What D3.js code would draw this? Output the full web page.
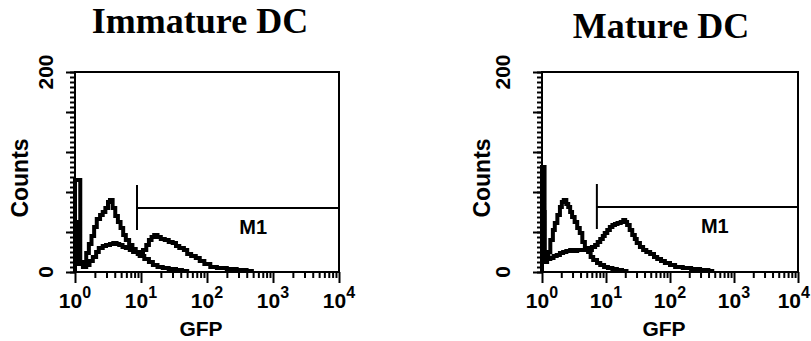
<!DOCTYPE html>
<html>
<head>
<meta charset="utf-8">
<script src="https://cdn.jsdelivr.net/npm/d3@7"></script>
<style>
  body { margin: 0; background: #fff; }
  svg { display: block; }
  .lbl { font-family: "Liberation Sans", Arial, Helvetica, sans-serif; font-weight: bold; fill: #000; }
  .ttl { font-family: "Liberation Serif", "Times New Roman", serif; font-weight: bold; font-size: 36px; fill: #000; }
  .axis path { display: none; }
  .axis line { stroke: #000; stroke-width: 2px; }
</style>
</head>
<body>
<svg id="chart" width="811" height="341"></svg>
<script>
'use strict';

var titles = ['Immature DC', 'Mature DC'];
var xTickLabels = ['0', '1', '2', '3', '4'];   // exponents of 10
var yTickLabels = ['0', '200'];

// histogram readings: [log10(GFP), counts]
var immatureControl = [[0, 92], [0.08, 10], [0.12, 8], [0.17, 19], [0.21, 28], [0.25, 36], [0.29, 45],
  [0.33, 53], [0.38, 57], [0.42, 60], [0.46, 64], [0.5, 70], [0.53, 72], [0.57, 64], [0.61, 56],
  [0.65, 50], [0.69, 44], [0.73, 37], [0.77, 32], [0.82, 27], [0.87, 23], [0.92, 20], [0.98, 16],
  [1.05, 13], [1.12, 10], [1.18, 7], [1.25, 5], [1.33, 4], [1.42, 3], [1.53, 2], [1.62, 1], [1.7, 0]];
var immatureGfp = [[0, 50], [0.06, 8], [0.12, 5], [0.17, 7], [0.22, 11], [0.27, 15], [0.32, 20],
  [0.36, 24], [0.42, 26], [0.47, 27], [0.53, 28], [0.58, 29], [0.63, 28], [0.67, 27], [0.72, 25],
  [0.77, 24], [0.83, 22], [0.88, 20], [0.95, 18], [1.0, 20], [1.03, 22], [1.08, 27], [1.12, 32],
  [1.16, 35], [1.2, 37], [1.25, 35], [1.3, 33], [1.36, 32], [1.42, 30], [1.48, 29], [1.53, 26],
  [1.58, 24], [1.65, 22], [1.7, 18], [1.76, 16], [1.83, 14], [1.89, 11], [1.96, 8], [2.05, 5],
  [2.15, 4], [2.3, 3], [2.45, 2], [2.6, 1], [2.68, 0]];

var matureControl = [[0, 105], [0.04, 20], [0.07, 14], [0.1, 20], [0.13, 32], [0.17, 42], [0.2, 49],
  [0.24, 57], [0.28, 65], [0.31, 70], [0.34, 72], [0.38, 68], [0.41, 65], [0.44, 60], [0.47, 55],
  [0.51, 50], [0.55, 44], [0.59, 39], [0.63, 30], [0.67, 24], [0.72, 20], [0.76, 15], [0.8, 12],
  [0.86, 9], [0.91, 7], [0.97, 5], [1.03, 4], [1.1, 3], [1.17, 2], [1.25, 1], [1.32, 0]];
var matureGfp = [[0, 60], [0.04, 10], [0.08, 13], [0.13, 14], [0.18, 16], [0.23, 17], [0.28, 19],
  [0.33, 20], [0.38, 21], [0.44, 22], [0.5, 21], [0.55, 22], [0.6, 22], [0.66, 22], [0.72, 22],
  [0.78, 25], [0.83, 27], [0.87, 30], [0.91, 33], [0.95, 36], [0.98, 39], [1.02, 42], [1.06, 45],
  [1.1, 47], [1.14, 48], [1.18, 49], [1.23, 50], [1.27, 52], [1.3, 50], [1.33, 47], [1.37, 42],
  [1.41, 37], [1.45, 33], [1.48, 29], [1.53, 25], [1.58, 22], [1.63, 20], [1.69, 18], [1.75, 15],
  [1.8, 13], [1.86, 11], [1.92, 9], [2.0, 7], [2.08, 5], [2.2, 4], [2.33, 3], [2.47, 2],
  [2.6, 1], [2.66, 0]];

// M1 gate: [from GFP, to GFP, counts level]
var immatureGate = [8.7, 10000, 64];
var matureGate = [7.2, 10000, 65];
var gateName = 'M1';

var panels = [
  {title: titles[0], series: [immatureControl, immatureGfp], gate: immatureGate,
   left: 75, right: 339, top: 72, bottom: 272, titleX: 200, titleY: 33, yLblX: 53, countsX: 28},
  {title: titles[1], series: [matureControl, matureGfp], gate: matureGate,
   left: 542, right: 798, top: 72, bottom: 272, titleX: 661, titleY: 38, yLblX: 510, countsX: 490}
];

var W = 811;
var svg = d3.select('#chart');

panels.forEach(function (p) {
  var g = svg.append('g');

  var x = d3.scaleLog().domain([1, 10000]).range([p.left, p.right]);
  var y = d3.scaleLinear().domain([0, 200]).range([p.bottom, p.top]);

  // title
  g.append('text').attr('class', 'ttl')
    .attr('x', p.titleX).attr('y', p.titleY)
    .attr('text-anchor', 'middle')
    .text(p.title);

  // frame
  g.append('rect')
    .attr('x', p.left).attr('y', p.top)
    .attr('width', p.right - p.left).attr('height', p.bottom - p.top)
    .attr('fill', 'none').attr('stroke', '#000').attr('stroke-width', 2);

  // y ticks
  g.append('g').attr('class', 'axis')
    .attr('transform', 'translate(' + p.left + ',0)')
    .call(d3.axisLeft(y).tickValues(d3.range(0, 201, 5)).tickSize(5).tickFormat(''));
  g.append('g').attr('class', 'axis')
    .attr('transform', 'translate(' + p.left + ',0)')
    .call(d3.axisLeft(y).tickValues(d3.range(0, 201, 40)).tickSize(9).tickFormat(''));

  // x ticks
  var minor = [];
  for (var e = 0; e < 4; e++) {
    for (var m = 2; m < 10; m++) minor.push(m * Math.pow(10, e));
  }
  var major = xTickLabels.map(function (d) { return Math.pow(10, +d); });
  g.append('g').attr('class', 'axis')
    .attr('transform', 'translate(0,' + p.bottom + ')')
    .call(d3.axisBottom(x).tickValues(minor).tickSize(6).tickFormat(''));
  g.append('g').attr('class', 'axis')
    .attr('transform', 'translate(0,' + p.bottom + ')')
    .call(d3.axisBottom(x).tickValues(major).tickSize(11).tickFormat(''));

  // x tick labels: 10^n
  xTickLabels.forEach(function (d) {
    var t = g.append('text').attr('class', 'lbl')
      .attr('x', x(Math.pow(10, +d))).attr('y', p.bottom + 36)
      .attr('text-anchor', 'middle')
      .style('font-size', '21px');
    t.append('tspan').text('10');
    t.append('tspan').attr('dy', -10).style('font-size', '16px').text(d);
    // keep the last label inside the page
    var bb = t.node().getBBox();
    if (bb.x + bb.width > W - 1) t.attr('x', +t.attr('x') - (bb.x + bb.width - W + 1));
  });

  // y tick labels, rotated
  yTickLabels.forEach(function (d) {
    g.append('text').attr('class', 'lbl')
      .attr('transform', 'translate(' + p.yLblX + ',' + y(+d) + ') rotate(-90)')
      .attr('text-anchor', 'middle')
      .style('font-size', '21px')
      .text(d);
  });

  // axis titles
  g.append('text').attr('class', 'lbl')
    .attr('transform', 'translate(' + p.countsX + ',' + ((p.top + p.bottom) / 2 + 6) + ') rotate(-90)')
    .attr('text-anchor', 'middle')
    .style('font-size', '23px')
    .text('Counts');
  g.append('text').attr('class', 'lbl')
    .attr('x', (p.left + p.right) / 2 - 6).attr('y', p.bottom + 64)
    .attr('text-anchor', 'middle')
    .style('font-size', '21px')
    .text('GFP');

  // histograms
  var line = d3.line()
    .x(function (d) { return x(Math.pow(10, d[0])); })
    .y(function (d) { return y(d[1]); })
    .curve(d3.curveStepAfter);

  p.series.forEach(function (s) {
    var pts = [[s[0][0], 0]].concat(s);
    g.append('path')
      .attr('d', line(pts))
      .attr('fill', 'none')
      .attr('stroke', '#000')
      .attr('stroke-width', 4)
      .attr('stroke-linejoin', 'miter');
  });

  // M1 gate marker
  var gy = y(p.gate[2]);
  g.append('line')
    .attr('x1', x(p.gate[0])).attr('x2', x(p.gate[1]))
    .attr('y1', gy).attr('y2', gy)
    .attr('stroke', '#000').attr('stroke-width', 2);
  g.append('line')
    .attr('x1', x(p.gate[0])).attr('x2', x(p.gate[0]))
    .attr('y1', gy - 23).attr('y2', gy + 22)
    .attr('stroke', '#000').attr('stroke-width', 2);
  g.append('text').attr('class', 'lbl')
    .attr('x', x(Math.pow(10, 2.7))).attr('y', gy + 26)
    .attr('text-anchor', 'middle')
    .style('font-size', '20px')
    .text(gateName);
});
</script>
</body>
</html>
